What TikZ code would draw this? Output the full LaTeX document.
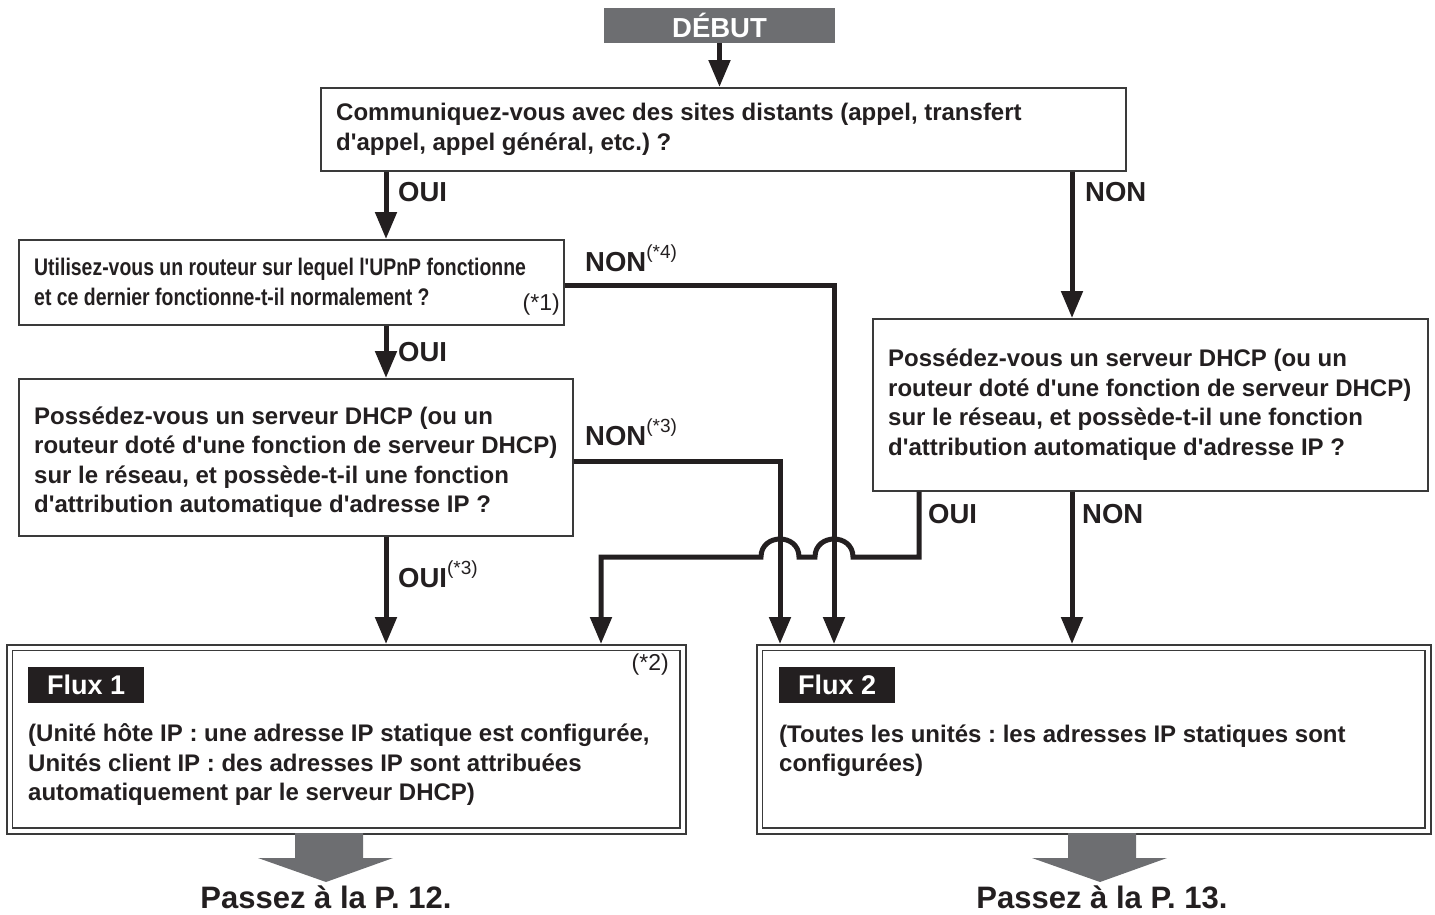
\documentclass[tikz,border=0pt]{standalone}
\usepackage{fontspec}
\setmainfont{Liberation Sans}
\newfontfamily\bodyfont{Liberation Sans}
\newfontfamily\narrowfont[FakeStretch=0.81]{Liberation Sans}
\usetikzlibrary{arrows.meta,calc}
\definecolor{ink}{HTML}{231F20}
\definecolor{midgray}{HTML}{6D6E71}
\definecolor{boxline}{HTML}{3A3A3A}
\newcommand{\supnote}[1]{\raisebox{0.45em}{\fontsize{19}{19}\mdseries\selectfont(#1)}}
\frenchspacing
\begin{document}
\begin{tikzpicture}[x=1pt,y=-1pt,
  qbox/.style={draw=boxline, line width=1.5pt, anchor=north west, inner sep=0pt},
  qtext/.style={anchor=west, align=left, inner sep=0pt, text=ink,
    font=\bodyfont\bfseries\fontsize{24}{29.5}\selectfont},
  ntext/.style={anchor=west, align=left, inner sep=0pt, text=ink,
    font=\narrowfont\bfseries\fontsize{24}{30}\selectfont},
  note/.style={inner sep=0pt, text=ink, font=\bodyfont\fontsize{23}{23}\selectfont},
  lab/.style={anchor=base west, inner sep=0pt, text=ink,
    font=\bodyfont\bfseries\fontsize{27.5}{27.5}\selectfont},
  flow/.style={draw=ink, line width=5pt, -{Triangle[width=21pt,length=27pt]}},
  startbox/.style={fill=midgray, text=white, minimum width=231pt, minimum height=35pt,
    inner sep=0pt, font=\bodyfont\bfseries\fontsize{27.5}{27.5}\selectfont},
  fluxbox/.style={draw=boxline, line width=1.5pt, anchor=north west, inner sep=0pt},
  fluxinner/.style={draw=boxline, line width=1.5pt},
  fluxlab/.style={fill=ink, text=white, anchor=north west, minimum width=116pt,
    minimum height=36pt, inner sep=0pt, font=\bodyfont\bfseries\fontsize{27}{27}\selectfont},
  bigarrow/.style={fill=midgray},
  passtext/.style={anchor=base, inner sep=0pt, text=ink,
    font=\bodyfont\bfseries\fontsize{31}{31}\selectfont}
]
\useasboundingbox (0,0) rectangle (1435,914);

% column coordinates
\coordinate (cL) at (386,0);
\coordinate (cR) at (1072,0);
\coordinate (c4) at (834,0);
\coordinate (c3) at (780,0);
\coordinate (cO) at (919,0);
\coordinate (cF) at (601,0);
\coordinate (yH) at (0,557);
\coordinate (yN4) at (0,285);
\coordinate (yN3) at (0,461);

% start
\node[startbox] (start) at (719.5,25.5) {DÉBUT};

% question 1
\node[qbox, minimum width=805pt, minimum height=83pt] (q1) at (320,87) {};
\node[qtext] (q1t) at ([xshift=16pt]q1.west) {Communiquez-vous avec des sites distants (appel, transfert\\d'appel, appel général, etc.) ?};

% question 2
\node[qbox, minimum width=545pt, minimum height=85pt] (q2) at (18,239) {};
\node[ntext] (q2t) at ([xshift=16pt]q2.west) {Utilisez-vous un routeur sur lequel l'UPnP fonctionne\\et ce dernier fonctionne-t-il normalement ?};
\node[note, anchor=base east] (n1) at (560,310) {(*1)};

% question 3
\node[qbox, minimum width=554pt, minimum height=157pt] (q3) at (18,378) {};
\node[qtext] (q3t) at ([xshift=16pt,yshift=-5pt]q3.west) {Possédez-vous un serveur DHCP (ou un\\routeur doté d'une fonction de serveur DHCP)\\sur le réseau, et possède-t-il une fonction\\d'attribution automatique d'adresse IP ?};

% question 4
\node[qbox, minimum width=555pt, minimum height=172pt] (q4) at (872,318) {};
\node[qtext] (q4t) at ([xshift=16pt]q4.west) {Possédez-vous un serveur DHCP (ou un\\routeur doté d'une fonction de serveur DHCP)\\sur le réseau, et possède-t-il une fonction\\d'attribution automatique d'adresse IP ?};

% flux 1
\node[fluxbox, minimum width=679pt, minimum height=189pt] (f1) at (6,644) {};
\draw[fluxinner] ([shift={(6.5,6.5)}]f1.north west) rectangle ([shift={(-6.5,-6.5)}]f1.south east);
\node[fluxlab] (f1l) at (28,667) {Flux 1};
\node[note, anchor=east] (n2) at (669,665) {(*2)};
\node[qtext] (f1t) at (28,765) {(Unité hôte IP : une adresse IP statique est configurée,\\Unités client IP : des adresses IP sont attribuées\\automatiquement par le serveur DHCP)};

% flux 2
\node[fluxbox, minimum width=674pt, minimum height=189pt] (f2) at (756,644) {};
\draw[fluxinner] ([shift={(6.5,6.5)}]f2.north west) rectangle ([shift={(-6.5,-6.5)}]f2.south east);
\node[fluxlab] (f2l) at (779,667) {Flux 2};
\node[qtext] (f2t) at (779,750.5) {(Toutes les unités : les adresses IP statiques sont\\configurées)};

% connectors
\draw[flow] (start.south) -- (start.south |- q1.north);
\draw[flow] (q1.south -| cL) -- (q2.north -| cL);
\draw[flow] (q1.south -| cR) -- (q4.north -| cR);
\draw[flow] (q2.south -| cL) -- (q3.north -| cL);
\draw[flow] (q3.south -| cL) -- (f1.north -| cL);
\draw[flow] (q2.east |- yN4) -| (f2.north -| c4);
\draw[flow] (q3.east |- yN3) -| (f2.north -| c3);
\draw[flow] (q4.south -| cR) -- (f2.north -| cR);
\draw[flow] (q4.south -| cO) -- (cO |- yH)
  -- ($(c4 |- yH)+(19,0)$) .. controls ($(c4 |- yH)+(19,-24)$) and ($(c4 |- yH)+(-19,-24)$) .. ($(c4 |- yH)+(-19,0)$)
  -- ($(c3 |- yH)+(19,0)$) .. controls ($(c3 |- yH)+(19,-24)$) and ($(c3 |- yH)+(-19,-24)$) .. ($(c3 |- yH)+(-19,0)$)
  -- (cF |- yH) -- (f1.north -| cF);

% labels
\node[lab] (l1) at (398,201) {OUI};
\node[lab] (l2) at (1085,201) {NON};
\node[lab] (l3) at (585,271) {NON\supnote{*4}};
\node[lab] (l4) at (398,361) {OUI};
\node[lab] (l5) at (585,445) {NON\supnote{*3}};
\node[lab] (l6) at (398,587) {OUI\supnote{*3}};
\node[lab] (l7) at (928,523) {OUI};
\node[lab] (l8) at (1082,523) {NON};

% big arrows
\fill[bigarrow] (295,833) -- (363,833) -- (363,858) -- (393,858) -- (326,882) -- (258,858) -- (295,858) -- cycle;
\fill[bigarrow] (1068,833) -- (1136,833) -- (1136,858) -- (1167,858) -- (1100,882) -- (1032,858) -- (1068,858) -- cycle;
\node[passtext] (p12) at (326,908) {Passez à la P. 12.};
\node[passtext] (p13) at (1102,908) {Passez à la P. 13.};
\end{tikzpicture}
\end{document}
